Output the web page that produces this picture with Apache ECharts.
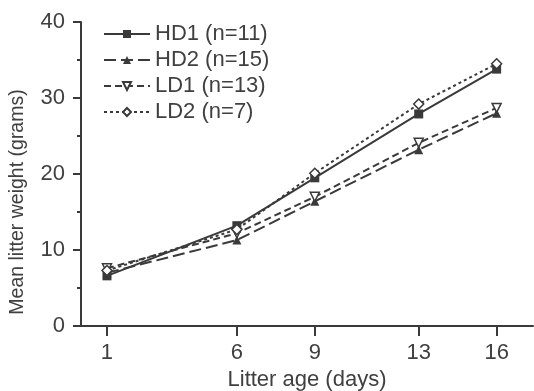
<!DOCTYPE html>
<html><head><meta charset="utf-8">
<script src="https://cdn.jsdelivr.net/npm/echarts@6/dist/echarts.min.js"></script>
<style>html,body{margin:0;padding:0;background:#fff}#c{width:534px;height:391px}</style>
</head><body><div id="c"></div>
<script>
const days = [1, 6, 9, 13, 16];
const xTicks = [1, 6, 9, 13, 16];
const seriesNames = ['HD1 (n=11)', 'HD2 (n=15)', 'LD1 (n=13)', 'LD2 (n=7)'];
const hd1 = [6.6, 13.2, 19.5, 27.9, 33.8];
const hd2 = [7.0, 11.3, 16.4, 23.2, 28.0];
const ld1 = [7.6, 12.2, 17.0, 24.1, 28.7];
const ld2 = [7.3, 12.7, 20.1, 29.2, 34.5];
const yTicks = [0, 10, 20, 30, 40];
const yTitle = 'Mean litter weight (grams)';
const xTitle = 'Litter age (days)';

const col = '#3a3a3a';
const txt = '#404040';
const fs = 22;
function mk(name, vals, type, symbol, rotate, fill) {
  return {
    name: name, type: 'line', data: days.map((d, i) => [d, vals[i]]),
    symbol: symbol, symbolSize: symbol === 'diamond' ? 10 : 9, symbolRotate: rotate,
    lineStyle: {color: col, width: 2, type: type},
    itemStyle: {color: fill, borderColor: col, borderWidth: fill === '#fff' ? 1.5 : 0},
    emphasis: {disabled: true}
  };
}
const chart = echarts.init(document.getElementById('c'));
chart.setOption({
  animation: false,
  textStyle: {fontFamily: 'Liberation Sans, Arial, sans-serif'},
  grid: {left: 81, right: 1, top: 22, bottom: 65, containLabel: false, outerBoundsMode: 'none'},
  legend: {
    left: 98, top: 18, orient: 'vertical', itemWidth: 46, itemHeight: 10, itemGap: 4,
    textStyle: {fontSize: fs, color: txt, padding: [0, 0, 0, 0]},
    data: seriesNames
  },
  graphic: [{
    type: 'text', x: 18, y: 202, rotation: Math.PI / 2,
    style: {text: yTitle, fontSize: 19.5, fill: txt, align: 'center', verticalAlign: 'middle',
            fontFamily: 'Liberation Sans, Arial, sans-serif'}
  }],
  xAxis: {
    type: 'value', min: 0, max: 17.4,
    name: xTitle, nameLocation: 'middle', nameGap: 42,
    nameTextStyle: {fontSize: fs, color: txt},
    axisLine: {lineStyle: {color: col, width: 2}},
    axisTick: {customValues: xTicks, length: 10, lineStyle: {color: col, width: 2}},
    axisLabel: {customValues: xTicks, fontSize: fs, color: txt, margin: 16},
    splitLine: {show: false}
  },
  yAxis: {
    type: 'value', min: 0, max: 40, interval: 10,
    axisLine: {show: true, lineStyle: {color: col, width: 2}},
    axisTick: {show: true, length: 8, lineStyle: {color: col, width: 2}},
    minorTick: {show: true, splitNumber: 2, length: 4, lineStyle: {color: col, width: 2}},
    axisLabel: {fontSize: fs, color: txt, margin: 16},
    splitLine: {show: false}
  },
  series: [
    mk(seriesNames[0], hd1, 'solid', 'rect', 0, col),
    mk(seriesNames[1], hd2, [12, 5], 'triangle', 0, col),
    mk(seriesNames[2], ld1, [7, 4], 'triangle', 180, '#fff'),
    mk(seriesNames[3], ld2, [3, 3], 'diamond', 0, '#fff')
  ]
});
</script></body></html>
